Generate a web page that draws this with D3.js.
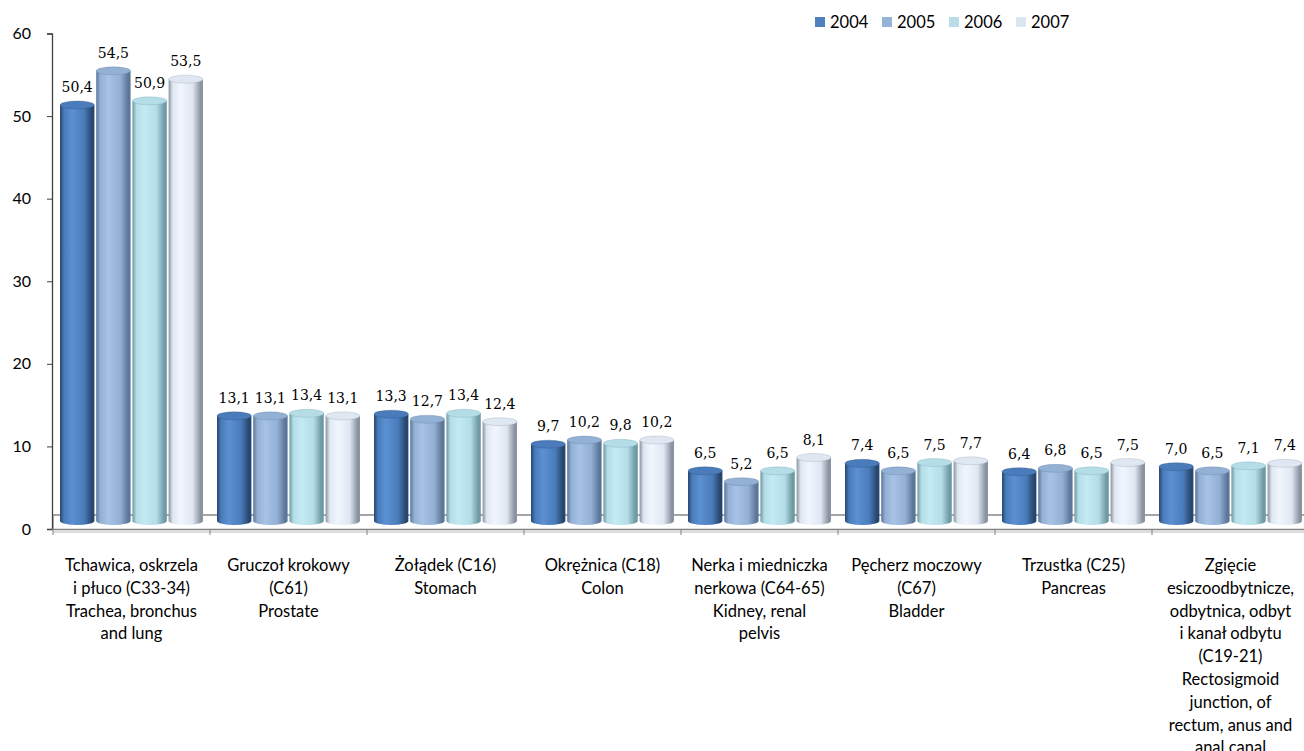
<!DOCTYPE html>
<html>
<head>
<meta charset="utf-8">
<script src="https://cdn.jsdelivr.net/npm/d3@7"></script>
<style>
  body { margin: 0; background: #fff; }
  text { font-family: Lato, "Open Sans", sans-serif; fill: #000; }
  .val { font-family: "DejaVu Serif", serif; font-size: 14px; }
</style>
</head>
<body>
<svg id="chart" width="1304" height="751"></svg>
<script>
const years = ["2004", "2005", "2006", "2007"];
const categories = [
    ["Tchawica, oskrzela", "i płuco (C33-34)", "Trachea, bronchus", "and lung"],
    ["Gruczoł krokowy", "(C61)", "Prostate"],
    ["Żołądek (C16)", "Stomach"],
    ["Okrężnica (C18)", "Colon"],
    ["Nerka i miedniczka", "nerkowa (C64-65)", "Kidney, renal", "pelvis"],
    ["Pęcherz moczowy", "(C67)", "Bladder"],
    ["Trzustka (C25)", "Pancreas"],
    ["Zgięcie", "esiczoodbytnicze,", "odbytnica, odbyt", "i kanał odbytu", "(C19-21)", "Rectosigmoid", "junction, of", "rectum, anus and", "anal canal"]
];
const values2004 = [50.4, 13.1, 13.3, 9.7, 6.5, 7.4, 6.4, 7.0];
const values2005 = [54.5, 13.1, 12.7, 10.2, 5.2, 6.5, 6.8, 6.5];
const values2006 = [50.9, 13.4, 13.4, 9.8, 6.5, 7.5, 6.5, 7.1];
const values2007 = [53.5, 13.1, 12.4, 10.2, 8.1, 7.7, 7.5, 7.4];
const yTicks = [0, 10, 20, 30, 40, 50, 60];

const series = [values2004, values2005, values2006, values2007];

// cylinder shading: [edge, light, base]
const shades = [
    ["#27466d", "#5b90d2", "#4a7cbb"],
    ["#5c7698", "#a6c2e4", "#93b0d5"],
    ["#6e9aa4", "#c4eaf3", "#b4dde7"],
    ["#8a93a0", "#f1f6fd", "#dfe7f2"]
];
const legendColors = ["#4f81bd", "#95b3d7", "#b7dee8", "#dce6f2"];

const svg = d3.select("#chart");
const defs = svg.append("defs");

shades.forEach((s, i) => {
    const g = defs.append("linearGradient")
        .attr("id", "cyl" + i)
        .attr("x1", 0).attr("x2", 1).attr("y1", 0).attr("y2", 0);
    [[0, s[0]], [0.12, s[2]], [0.35, s[1]], [0.7, s[2]], [0.93, s[0]], [1, s[0]]].forEach(st => {
        g.append("stop").attr("offset", st[0]).attr("stop-color", st[1]);
    });
});

const x0 = d3.scaleBand()
    .domain(d3.range(categories.length))
    .range([53, 53 + 157 * categories.length]);

const x1 = d3.scaleBand()
    .domain(d3.range(years.length))
    .range([7, x0.bandwidth() - 7])
    .paddingInner(0.05);

const y = d3.scaleLinear().domain([0, 60]).range([529, 33.5]);
const yBar = d3.scaleLinear().domain([0, 60]).range([525, 25]);

// floor / back wall
svg.append("line")
    .attr("x1", 53).attr("x2", 1304)
    .attr("y1", 515).attr("y2", 515)
    .attr("stroke", "#a5a5a5").attr("stroke-width", 2);
svg.append("line")
    .attr("x1", 53).attr("x2", 53)
    .attr("y1", 514).attr("y2", 529)
    .attr("stroke", "#a5a5a5").attr("stroke-width", 1.5);
svg.append("line")
    .attr("x1", 53).attr("x2", 1304)
    .attr("y1", 532).attr("y2", 532)
    .attr("stroke", "#d0d0d0").attr("stroke-width", 1.5);

// y axis
const yAxis = d3.axisLeft(y).tickValues(yTicks).tickSize(5).tickPadding(16);
const yg = svg.append("g")
    .attr("transform", "translate(52,0)")
    .call(yAxis);
yg.select(".domain").attr("stroke", "#404040").attr("stroke-width", 1.3);
yg.selectAll(".tick line").attr("stroke", "#404040");
yg.selectAll("text").style("font-size", "16px").attr("fill", "#000");

// x axis
svg.append("line")
    .attr("x1", 52).attr("x2", 1304)
    .attr("y1", 529.5).attr("y2", 529.5)
    .attr("stroke", "#808080").attr("stroke-width", 1.3);
svg.selectAll(".xtick")
    .data(d3.range(categories.length + 1))
    .enter().append("line")
    .attr("class", "xtick")
    .attr("x1", d => 53 + d * x0.step()).attr("x2", d => 53 + d * x0.step())
    .attr("y1", 529).attr("y2", 535)
    .attr("stroke", "#808080");

// cylinders
const ry = 4;
series.forEach((vals, si) => {
    const g = svg.append("g");
    vals.forEach((v, ci) => {
        const bx = x0(ci) + x1(si);
        const bw = x1.bandwidth();
        const top = yBar(v);
        const base = yBar(0) - ry;
        g.append("path")
            .attr("d", `M${bx},${top} L${bx},${base} A${bw / 2},${ry} 0 0 0 ${bx + bw},${base} L${bx + bw},${top} Z`)
            .attr("fill", `url(#cyl${si})`);
        g.append("ellipse")
            .attr("cx", bx + bw / 2).attr("cy", top)
            .attr("rx", bw / 2).attr("ry", ry)
            .attr("fill", shades[si][2])
            .attr("stroke", shades[si][0]).attr("stroke-opacity", 0.35).attr("stroke-width", 0.8);
        g.append("text")
            .attr("class", "val")
            .attr("x", bx + bw / 2)
            .attr("y", top - 13)
            .attr("text-anchor", "middle")
            .text(d3.format(".1f")(v).replace(".", ","));
    });
});

// category labels
categories.forEach((lines, ci) => {
    const t = svg.append("text")
        .attr("text-anchor", "middle")
        .style("font-size", "16.5px");
    lines.forEach((ln, li) => {
        t.append("tspan")
            .attr("x", x0(ci) + x0.bandwidth() / 2)
            .attr("y", 571 + li * 22.8)
            .text(ln);
    });
});

// legend
const legend = svg.append("g");
years.forEach((yr, i) => {
    const lx = 815 + i * 67;
    legend.append("rect")
        .attr("x", lx).attr("y", 17)
        .attr("width", 10).attr("height", 10)
        .attr("fill", legendColors[i]);
    legend.append("text")
        .attr("x", lx + 15).attr("y", 28)
        .style("font-size", "16.5px")
        .text(yr);
});
</script>
</body>
</html>
